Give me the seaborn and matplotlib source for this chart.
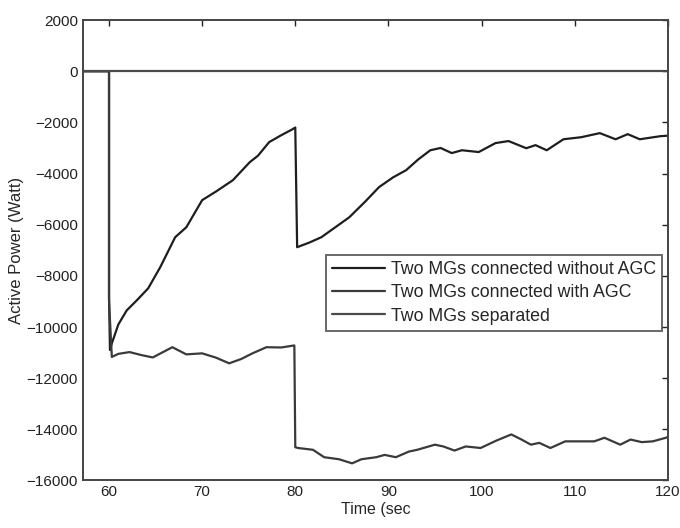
import matplotlib
matplotlib.use('Agg')
import matplotlib.pyplot as plt
import numpy as np
import pandas as pd
import seaborn as sns

# Data
t_sep = [57, 120]
p_sep = [0, 0]

t_no_agc = [57, 60, 60.0, 60.1, 60.3, 61.0, 61.9, 63.0, 64.2, 65.5, 67.1, 68.3, 70.0, 71.5,
            73.3, 75.1, 76.0, 77.2, 78.5, 79.7, 80.0, 80.2, 81.5, 82.8, 84.3, 85.8, 87.5,
            89.0, 90.5, 91.9, 93.2, 94.5, 95.6, 96.8, 97.9, 99.7, 101.5, 102.9, 104.8, 105.8,
            107.0, 108.8, 110.7, 112.7, 114.4, 115.7, 117.0, 119.2, 120]
p_no_agc = [0, 0, -8800, -10900, -10640, -9900, -9350, -8950, -8490, -7660, -6490, -6100,
            -5040, -4700, -4260, -3560, -3300, -2770, -2500, -2270, -2200, -6880, -6700,
            -6490, -6100, -5710, -5100, -4530, -4150, -3870, -3450, -3090, -3000, -3200,
            -3090, -3160, -2810, -2730, -3010, -2890, -3090, -2660, -2580, -2420, -2660,
            -2460, -2660, -2540, -2520]

t_agc = [57, 60, 60.0, 60.3, 61.0, 62.2, 63.5, 64.7, 66.8, 68.3, 70.0, 71.5, 72.9, 74.2,
         75.4, 76.9, 78.5, 79.9, 80.0, 80.3, 81.9, 83.1, 84.7, 86.1, 87.1, 88.7, 89.6, 90.8,
         92.2, 93.1, 95.0, 95.9, 97.1, 98.3, 99.9, 101.6, 103.2, 104.3, 105.3, 106.2, 107.4,
         109.0, 110.4, 112.1, 113.2, 114.9, 116.0, 117.2, 118.4, 119.8, 120]
p_agc = [0, 0, -9000, -11170, -11050, -10980, -11100, -11190, -10790, -11070, -11030,
         -11200, -11420, -11250, -11030, -10790, -10800, -10720, -14700, -14730, -14800,
         -15090, -15170, -15330, -15170, -15090, -15000, -15090, -14870, -14800, -14600,
         -14670, -14830, -14670, -14730, -14440, -14200, -14400, -14600, -14530, -14730,
         -14470, -14470, -14470, -14330, -14600, -14400, -14500, -14470, -14330, -14300]

labels = ['Two MGs connected without AGC', 'Two MGs connected with AGC', 'Two MGs separated']

sns.set_style('white')
plt.rcParams['font.family'] = ['Liberation Sans', 'DejaVu Sans']

fig = plt.figure(figsize=(6.8, 5.28), dpi=100)
ax = fig.add_axes([0.122, 0.09, 0.86, 0.872])

sns.lineplot(x=t_no_agc, y=p_no_agc, sort=False, estimator=None, color='#1e1e1e', lw=1.6,
             label=labels[0], ax=ax)
sns.lineplot(x=t_agc, y=p_agc, sort=False, estimator=None, color='#3a3a3a', lw=1.6,
             label=labels[1], ax=ax)
sns.lineplot(x=t_sep, y=p_sep, sort=False, estimator=None, color='#4a4a4a', lw=1.6,
             label=labels[2], ax=ax)

ax.set_xlim(57.2, 120)
ax.set_ylim(-16000, 2000)
ax.set_xticks(np.arange(60, 121, 10))
ax.set_yticks(np.arange(-16000, 2001, 2000))
ax.tick_params(direction='in', top=True, right=True, length=4, width=1, labelsize=11,
               colors='#222222')
for s in ax.spines.values():
    s.set_color('#444444')
    s.set_linewidth(1.4)
ax.set_xlabel('Time (sec', fontsize=11.5, labelpad=2)
ax.set_ylabel('Active Power (Watt)', fontsize=12, labelpad=2)

leg = ax.legend(loc='upper right', bbox_to_anchor=(0.99, 0.49), fontsize=12.8,
                frameon=True, fancybox=False, borderaxespad=0, handlelength=3.0,
                handletextpad=0.3, labelspacing=0.35, borderpad=0.35)
leg.get_frame().set_edgecolor('#444444')
leg.get_frame().set_linewidth(1.4)

plt.savefig('out.png', dpi=100)
